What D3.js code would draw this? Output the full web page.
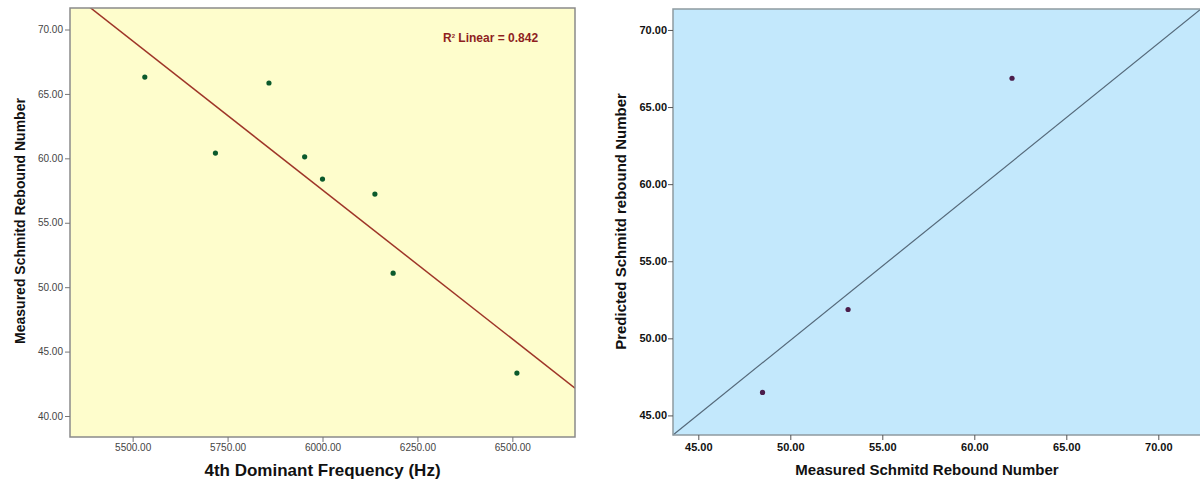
<!DOCTYPE html>
<html>
<head>
<meta charset="utf-8">
<script src="https://cdn.jsdelivr.net/npm/d3@7"></script>
<style>
  html, body { margin: 0; padding: 0; background: #ffffff; }
  svg { display: block; font-family: Arial, "Liberation Sans", sans-serif; }
</style>
</head>
<body>
<svg id="chart" width="1200" height="480"></svg>
<script>
// Left panel: 4th dominant frequency vs measured Schmidt rebound number
const frequencyHz = [5532, 5718, 5859, 5953, 6000, 6138, 6186, 6512];
const measuredRebound = [66.31, 60.41, 65.85, 60.12, 58.39, 57.23, 51.09, 43.33];
const rSquaredLinear = 0.842;
const leftXTicks = [5500, 5750, 6000, 6250, 6500];
const leftYTicks = [40, 45, 50, 55, 60, 65, 70];

// Right panel: measured vs predicted rebound number
const validationMeasured = [62.05, 53.14, 48.49];
const validationPredicted = [66.87, 51.87, 46.49];
const rightXTicks = [45, 50, 55, 60, 65, 70];
const rightYTicks = [45, 50, 55, 60, 65, 70];

const svg = d3.select("#chart");
const fmt = d => d.toFixed(2);

// ---------- left panel ----------
const L = { x0: 70, x1: 575, y0: 8, y1: 437 };
const lx = d3.scaleLinear().domain([5335, 6665]).range([L.x0, L.x1]);
const ly = d3.scaleLinear().domain([38.37, 71.67]).range([L.y1, L.y0]);

const left = svg.append("g");
left.append("rect")
  .attr("x", L.x0).attr("y", L.y0)
  .attr("width", L.x1 - L.x0).attr("height", L.y1 - L.y0)
  .attr("fill", "#fefdcc");

// least-squares fit line
const mx = d3.mean(frequencyHz), my = d3.mean(measuredRebound);
let sxy = 0, sxx = 0;
frequencyHz.forEach((f, i) => { sxy += (f - mx) * (measuredRebound[i] - my); sxx += (f - mx) * (f - mx); });
const slope = sxy / sxx, intercept = my - slope * mx;
const fitX = lx.domain();
left.append("clipPath").attr("id", "clipL")
  .append("rect").attr("x", L.x0).attr("y", L.y0)
  .attr("width", L.x1 - L.x0).attr("height", L.y1 - L.y0);
left.append("line")
  .attr("clip-path", "url(#clipL)")
  .attr("x1", lx(fitX[0])).attr("y1", ly(intercept + slope * fitX[0]))
  .attr("x2", lx(fitX[1])).attr("y2", ly(intercept + slope * fitX[1]))
  .attr("stroke", "#9e3528").attr("stroke-width", 1.5);

left.selectAll("circle.pt").data(frequencyHz).join("circle")
  .attr("class", "pt")
  .attr("cx", d => lx(d))
  .attr("cy", (d, i) => ly(measuredRebound[i]))
  .attr("r", 2.6).attr("fill", "#0b5a2c");

left.append("rect")
  .attr("x", L.x0).attr("y", L.y0)
  .attr("width", L.x1 - L.x0).attr("height", L.y1 - L.y0)
  .attr("fill", "none").attr("stroke", "#8a8a8a").attr("stroke-width", 1.5);

const lxAxis = left.append("g").attr("transform", `translate(0,${L.y1})`)
  .call(d3.axisBottom(lx).tickValues(leftXTicks).tickFormat(fmt).tickSize(5).tickPadding(2));
const lyAxis = left.append("g").attr("transform", `translate(${L.x0},0)`)
  .call(d3.axisLeft(ly).tickValues(leftYTicks).tickFormat(fmt).tickSize(5).tickPadding(2));
[lxAxis, lyAxis].forEach(a => {
  a.select(".domain").remove();
  a.selectAll(".tick line").attr("stroke", "#777");
  a.selectAll(".tick text").attr("fill", "#444").style("font-size", "10px");
});

const r2 = left.append("text")
  .attr("x", 443).attr("y", 42)
  .attr("fill", "#8e1f1f").style("font-size", "12px").style("font-weight", "bold");
r2.append("tspan").text("R");
r2.append("tspan").attr("dy", -4).style("font-size", "6px").text("2");
r2.append("tspan").attr("dy", 4).text(" Linear = " + rSquaredLinear.toFixed(3));

left.append("text")
  .attr("x", (L.x0 + L.x1) / 2).attr("y", 476)
  .attr("text-anchor", "middle").style("font-size", "17px").style("font-weight", "bold")
  .attr("fill", "#111").text("4th Dominant Frequency (Hz)");
left.append("text")
  .attr("transform", "translate(25,221) rotate(-90)")
  .attr("text-anchor", "middle").style("font-size", "14px").style("font-weight", "bold")
  .attr("fill", "#111").text("Measured Schmitd Rebound Number");

// ---------- right panel ----------
const R = { x0: 673, x1: 1201, y0: 9, y1: 435 };
const rx = d3.scaleLinear().domain([43.625, 72.32]).range([R.x0, R.x1]);
const ry = d3.scaleLinear().domain([43.73, 71.36]).range([R.y1, R.y0]);

const right = svg.append("g");
right.append("rect")
  .attr("x", R.x0).attr("y", R.y0)
  .attr("width", R.x1 - R.x0).attr("height", R.y1 - R.y0)
  .attr("fill", "#c3e8fc");

// reference diagonal across the plot area
right.append("line")
  .attr("x1", rx(rx.domain()[0])).attr("y1", ry(ry.domain()[0]))
  .attr("x2", rx(rx.domain()[1])).attr("y2", ry(ry.domain()[1]))
  .attr("stroke", "#55697a").attr("stroke-width", 1.2);

right.selectAll("circle.pt").data(validationMeasured).join("circle")
  .attr("class", "pt")
  .attr("cx", d => rx(d))
  .attr("cy", (d, i) => ry(validationPredicted[i]))
  .attr("r", 2.6).attr("fill", "#4b1d4b");

right.append("rect")
  .attr("x", R.x0).attr("y", R.y0)
  .attr("width", R.x1 - R.x0).attr("height", R.y1 - R.y0)
  .attr("fill", "none").attr("stroke", "#8f9aa0").attr("stroke-width", 1.5);

const rxAxis = right.append("g").attr("transform", `translate(0,${R.y1})`)
  .call(d3.axisBottom(rx).tickValues(rightXTicks).tickFormat(fmt).tickSize(5).tickPadding(3));
const ryAxis = right.append("g").attr("transform", `translate(${R.x0},0)`)
  .call(d3.axisLeft(ry).tickValues(rightYTicks).tickFormat(fmt).tickSize(5).tickPadding(1));
[rxAxis, ryAxis].forEach(a => {
  a.select(".domain").remove();
  a.selectAll(".tick line").attr("stroke", "#555");
  a.selectAll(".tick text").attr("fill", "#111").style("font-size", "11px").style("font-weight", "bold");
});

right.append("text")
  .attr("x", 927).attr("y", 475)
  .attr("text-anchor", "middle").style("font-size", "15px").style("font-weight", "bold")
  .attr("fill", "#111").text("Measured Schmitd Rebound Number");
right.append("text")
  .attr("transform", "translate(626,221.5) rotate(-90)")
  .attr("text-anchor", "middle").style("font-size", "15px").style("font-weight", "bold")
  .attr("fill", "#111").text("Predicted Schmitd rebound Number");
</script>
</body>
</html>
